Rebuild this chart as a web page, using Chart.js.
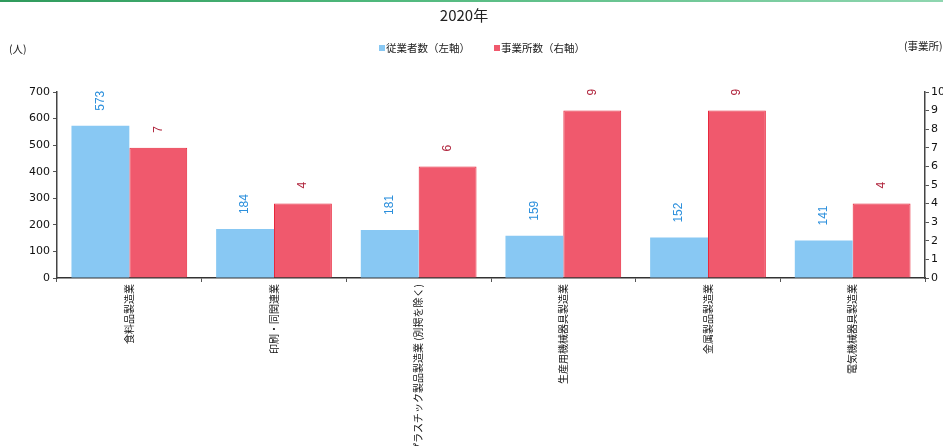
<!DOCTYPE html>
<html><head><meta charset="utf-8">
<script src="https://cdn.jsdelivr.net/npm/chart.js@4"></script>
<style>
html,body{margin:0;padding:0;background:#fff;overflow:hidden;width:943px;height:446px}
#topline{position:absolute;left:0;top:0;width:943px;height:2px;background:linear-gradient(90deg,#2f9a5c,#4fb87c 40%,#8fd6b0)}
#wrap{position:absolute;left:0;top:0;width:950px;height:446px}
</style></head><body>
<div id="wrap"><canvas id="c"></canvas></div><div id="topline"></div>
<script>
const titleText = '2020年';
const categories = ['食料品製造業','印刷・同関連業','プラスチック製品製造業 (別掲を除く)','生産用機械器具製造業','金属製品製造業','電気機械器具製造業'];
const employees = [573,184,181,159,152,141];
const establishments = [7,4,6,9,9,4];
const seriesNames = ['従業者数（左軸）','事業所数（右軸）'];
const leftUnit = '(人)';
const rightUnit = '(事業所)';
const leftAxis = {min:0,max:700,step:100};
const rightAxis = {min:0,max:10,step:1};

const BLUE = '#88c8f3', RED = '#f0596d';
const JP = '"Noto Sans CJK JP","Noto Sans",sans-serif';

const decor = {
  id:'decor',
  afterDraw(chart){
    const ctx = chart.ctx;
    ctx.save();
    ctx.fillStyle = '#222';
    ctx.font = '15px ' + JP;
    ctx.textAlign = 'center'; ctx.textBaseline = 'middle';
    ctx.fillText(titleText, 464, 15);
    // units
    ctx.font = '10.5px ' + JP;
    ctx.textAlign = 'left';
    ctx.fillText(leftUnit, 9, 49);
    ctx.fillText(rightUnit, 904, 46);
    // legend
    const cols = [BLUE, RED];
    let x = 379; const y = 48;
    chart.data.datasets.forEach((ds,i)=>{
      ctx.fillStyle = cols[i];
      ctx.fillRect(x, y-3, 6, 6);
      ctx.fillStyle = '#222';
      ctx.fillText(ds.label, x+7, y);
      x += 7 + ctx.measureText(ds.label).width + 24;
    });
    ctx.restore();
  },
  afterDatasetsDraw(chart){
    const ctx = chart.ctx;
    const colors = ['#2b8fdc','#b0243c'];
    ctx.save();
    ctx.font = '12px "Liberation Sans",Arial,sans-serif';
    chart.data.datasets.forEach((ds,i)=>{
      const meta = chart.getDatasetMeta(i);
      meta.data.forEach((bar,j)=>{
        ctx.save();
        ctx.translate(bar.x, bar.y - 15);
        ctx.rotate(-Math.PI/2);
        ctx.fillStyle = colors[i];
        ctx.textAlign = 'left'; ctx.textBaseline = 'middle';
        ctx.fillText(String(ds.data[j]), 0, 0);
        ctx.restore();
      });
    });
    ctx.restore();
  }
};

new Chart(document.getElementById('c'), {
  type:'bar',
  data:{
    labels: categories,
    datasets:[
      {label:seriesNames[0], data:employees, backgroundColor:BLUE, borderWidth:0, yAxisID:'y', categoryPercentage:0.8, barPercentage:1.0},
      {label:seriesNames[1], data:establishments, backgroundColor:RED, borderColor:'#e8283c', borderWidth:1, yAxisID:'y1', categoryPercentage:0.8, barPercentage:1.0}
    ]
  },
  options:{
    responsive:true, maintainAspectRatio:false, animation:false,
    devicePixelRatio:1,
    layout:{padding:{top:92,left:0,right:0,bottom:0}},
    plugins:{legend:{display:false}, title:{display:false}, tooltip:{enabled:false}},
    scales:{
      x:{
        offset:true,
        grid:{display:true, drawOnChartArea:false, drawTicks:true, tickLength:4, color:'#555', offset:true},
        border:{display:true, color:'#333', width:1.5},
        ticks:{autoSkip:false, minRotation:90, maxRotation:90, padding:2, color:'#111', font:{family:JP, size:10}},
        afterFit(s){ s.height = 168; }
      },
      y:{
        position:'left', min:leftAxis.min, max:leftAxis.max,
        grid:{drawOnChartArea:false, tickLength:4, color:'#555'},
        border:{display:true, color:'#444', width:1.5},
        ticks:{stepSize:leftAxis.step, padding:3, color:'#111', font:{family:'"DejaVu Sans",sans-serif', size:11}},
        afterFit(s){ s.width = 57; }
      },
      y1:{
        position:'right', min:rightAxis.min, max:rightAxis.max,
        grid:{drawOnChartArea:false, tickLength:4, color:'#555'},
        border:{display:true, color:'#444', width:1.5},
        ticks:{stepSize:rightAxis.step, padding:2, color:'#111', font:{family:'"DejaVu Sans",sans-serif', size:11}},
        afterFit(s){ s.width = 25; }
      }
    }
  },
  plugins:[decor]
});
</script>
</body></html>
